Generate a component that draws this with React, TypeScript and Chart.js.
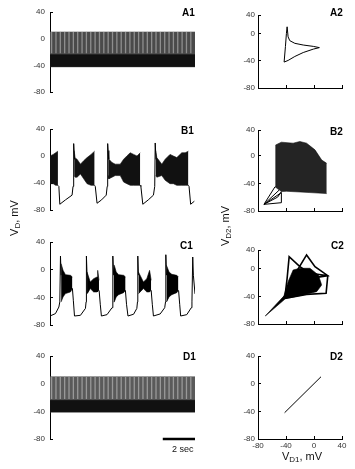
import React, { useEffect, useRef } from "react";
import { Chart, registerables } from "chart.js";

Chart.register(...registerables);

const FONT = "'Liberation Sans', Arial, Helvetica, sans-serif";

// ---------------- shared axes ----------------
const timeRange = [0, 9]; // seconds shown in left traces
const voltTicks = [-80, -40, 0, 40];
const phaseTicks = [-80, -40, 0, 40];
const scaleBarTime = [7, 9]; // 2 sec scale bar
const scaleBarV = [-80, -80];

// ---------------- A1: tonic spiking ----------------
const a1Time = [0, 9];
const a1Peak = [10, 10];
const a1Trough = [-42, -42];
const a1DenseTop = [-24, -24];
const a1SpikeTimes = [0.1, 0.37, 0.64, 0.91, 1.18, 1.45, 1.72, 1.99, 2.26, 2.53, 2.8, 3.07, 3.34, 3.61, 3.88, 4.15, 4.42, 4.69, 4.96, 5.23, 5.5, 5.77, 6.04, 6.31, 6.58, 6.85, 7.12, 7.39, 7.66, 7.93, 8.2, 8.47, 8.74];
const a1StripeRange = [10, -22];

// ---------------- A2: phase loop ----------------
const a2V1 = [-42.7, -40.8, -39.4, -38.4, -37, -34.6, -27.4, -15.4, -1, 7.7, -1, -15.4, -27.4, -37, -42.7];
const a2V2 = [-42, -19, 0, 9.7, -5, -10.6, -14.5, -17, -19, -20.8, -23, -28, -33.8, -39.6, -42];

// ---------------- B1: bursting ----------------
const b1TraceTime = [0.49, 0.55, 0.61, 0.96, 1.37, 1.43, 1.47, 1.52, 1.6, 2.77, 2.81, 2.92, 3.2, 3.49, 3.55, 3.58, 3.64, 3.7, 5.6, 5.64, 5.76, 6.1, 6.42, 6.5, 6.53, 6.58, 6.7, 8.59, 8.63, 8.73, 8.96];
const b1TraceV = [-43.5, -45, -71.5, -65, -58, -45, 18.4, -5, null, -43.5, -45, -70, -65, -58, -45, 18.4, -5, null, -43.5, -45, -71.5, -65, -58, -45, 19.3, -5, null, -43.5, -45, -71.5, -67];
const b1BurstATime = [0, 0.2, 0.35, 0.49];
const b1BurstATop = [0, 2.4, 4.8, 7.2];
const b1BurstABot = [-41, -41, -43.5, -43.5];
const b1BurstBTime = [1.5, 1.56, 1.68, 1.89, 2.09, 2.3, 2.55, 2.77];
const b1BurstBTop = [8, -3, -4.8, -12.1, -7, -2.4, 2.4, 7.2];
const b1BurstBBot = [-29, -31.4, -31.4, -26.6, -33.8, -41, -43.5, -43.5];
const b1BurstCTime = [3.61, 3.66, 3.85, 4.05, 4.36, 4.57, 4.77, 4.98, 5.19, 5.4, 5.6];
const b1BurstCTop = [8, -4.8, -9.7, -12.1, -12.1, -4.8, 0, 4.8, 2.4, 0, 4.8];
const b1BurstCBot = [-29, -33.8, -31.4, -29, -29, -38.6, -41, -43.5, -43.5, -43.5, -43.5];
const b1BurstDTime = [6.56, 6.63, 6.94, 7.15, 7.45, 7.66, 7.87, 8.18, 8.39, 8.59];
const b1BurstDTop = [8, -2.4, -12.1, -4.8, 2.4, 0, -2.4, 4.8, 4.8, 7.2];
const b1BurstDBot = [-29, -31.4, -29, -36, -41, -41, -43.5, -43.5, -43.5, -43.5];

// ---------------- B2: chaotic tangle ----------------
// dense mass outline
const b2UpperV1 = [-55.7, -54.7, -46.6, -29.8, -20.2, -10.6, 1.4, 11, 18.2];
const b2UpperV2 = [-45, 15.5, 19.4, 18, 20.4, 18, 8.3, -6.3, -11.2];
const b2LowerV1 = [-55.7, -46.6, -39.4, -5.8, 18.2];
const b2LowerV2 = [-45, -52, -51.5, -53.4, -54.9];
// strands fanning out of the lower-left corner
const b2FanV1 = [-71.5, -55.7, null, -71.5, -50, null, -71.5, -46.6, -46.6, null, -71.5, -52, -46.6, null, -71.5, -46.6];
const b2FanV2 = [-70.4, -45, null, -70.4, -50, null, -70.4, -68, -53.4, null, -70.4, -60, -52, null, -70.4, -53.4];

// ---------------- C1: bursting ----------------
const c1TraceTime = [0, 0.34, 0.55, 0.61, 0.65, 0.69, 0.75, 1.39, 1.45, 1.52, 1.89, 2.2, 2.24, 2.26, 2.3, 2.4, 3.05, 3.12, 3.19, 3.54, 3.85, 3.89, 3.91, 3.95, 4.0, 4.68, 4.75, 4.84, 5.19, 5.39, 5.43, 5.45, 5.49, 5.6, 6.28, 6.35, 6.42, 6.84, 7.12, 7.17, 7.19, 7.23, 7.3, 7.98, 8.05, 8.11, 8.49, 8.77, 8.81, 8.86, 8.9, 9.0];
const c1TraceV = [-67, -63.5, -54, -46.6, 19.7, -8, null, -27, -45, -67, -66, -56, -46.6, 19.7, -8, null, -30, -50, -67, -65, -55, -46.6, 19.7, -8, null, -30, -50, -67, -64.4, -56, -46.6, 19.7, -8, null, -30, -50, -67, -64, -55, -46.6, 21.6, -8, null, -30, -50, -67, -65, -55, -46.6, 18.3, -8, -35];
const c1Burst1Time = [0.69, 0.81, 0.96, 1.27, 1.39];
const c1Burst1Top = [8.7, -1, -7.2, -8.2, -10.6];
const c1Burst1Bot = [-46.6, -39.4, -34.6, -32.2, -27.4];
const c1Burst2Time = [2.3, 2.34, 2.5, 2.71, 2.92, 2.96, 3.04];
const c1Burst2Top = [-3.4, -3.4, -17.8, -13, -10.6, -1, -15.4];
const c1Burst2Bot = [-34.6, -34.6, -27.4, -32.2, -32.2, -32.2, -29.8];
const c1Burst3Time = [3.95, 3.99, 4.11, 4.26, 4.57, 4.69];
const c1Burst3Top = [6.3, 6.3, -3.4, -7.2, -8.2, -10.6];
const c1Burst3Bot = [-46.6, -46.6, -39.4, -36.1, -33.2, -29.8];
const c1Burst4Time = [5.49, 5.52, 5.8, 6.01, 6.18, 6.28];
const c1Burst4Top = [-3.4, -3.4, -17.8, -13, -1, -15.4];
const c1Burst4Bot = [-34.6, -34.6, -27.4, -32.2, -32.2, -29.8];
const c1Burst5Time = [7.23, 7.25, 7.39, 7.56, 7.87, 7.97];
const c1Burst5Top = [6.3, 6.3, -3.4, -6.7, -8.2, -10.6];
const c1Burst5Bot = [-46.6, -46.6, -39.4, -36.1, -33.2, -29.8];

// ---------------- C2: tangle ----------------
const c2TailUpperV1 = [-69.6, -41.8];
const c2TailUpperV2 = [-68.4, -38];
const c2TailLowerV1 = [-69.6, -41.8];
const c2TailLowerV2 = [-68.4, -44];
const c2CoreUpperV1 = [-44.2, -37, -29.8, -20.2, -5.8, 6.2, 11];
const c2CoreUpperV2 = [-43.7, -18.4, -1.5, 1, 1, -8.7, -23.3];
const c2CoreLowerV1 = [-44.2, -39.4, -20.2, 3.8, 11];
const c2CoreLowerV2 = [-43.7, -42.7, -38.8, -33, -23.3];
const c2LoopV1 = [-41.8, -38.4, -35.5, -20.2, -5.8, 19.7, 17.3, -10.6, -41.8, -25, -10.6, 1.4, 19.7, -5.8, -27.4];
const c2LoopV2 = [-42.7, -13.6, 18, 3.4, -6.3, -9.7, -35.4, -36.9, -42.7, -3.9, 20.4, 3.4, -9.7, -13.6, -3.9];

// ---------------- D1 / D2: synchronous tonic spiking ----------------
const d1Time = [0, 9];
const d1Peak = [10, 10];
const d1Trough = [-41, -41];
const d1DenseTop = [-24, -24];
const d1SpikeTimes = [0.1, 0.37, 0.64, 0.91, 1.18, 1.45, 1.72, 1.99, 2.26, 2.53, 2.8, 3.07, 3.34, 3.61, 3.88, 4.15, 4.42, 4.69, 4.96, 5.23, 5.5, 5.77, 6.04, 6.31, 6.58, 6.85, 7.12, 7.39, 7.66, 7.93, 8.2, 8.47, 8.74];
const d1StripeRange = [10, -22];
const d2V1 = [-42, 10];
const d2V2 = [-42, 10];

// ---------------- helpers ----------------
const xy = (xs: (number | null)[], ys: (number | null)[]) => xs.map((x, i) => ({ x, y: ys[i] }));

const lineDS = (xs: (number | null)[], ys: (number | null)[], width = 1, color = "#000", extra: any = {}) => ({
  data: xy(xs, ys),
  borderColor: color,
  borderWidth: width,
  pointRadius: 0,
  fill: false,
  tension: 0,
  spanGaps: false,
  ...extra,
});

// vertical strokes at each spike time, separated by gaps
const stripesDS = (times: number[], range: number[], width: number, color: string) => {
  const xs: number[] = [];
  const ys: (number | null)[] = [];
  times.forEach((t) => {
    xs.push(t, t, t);
    ys.push(range[0], range[1], null);
  });
  return lineDS(xs, ys, width, color);
};

const bandDS = (xt: number[], top: number[], xb: number[], bot: number[], color: string) => [
  { data: xy(xt, top), borderColor: color, borderWidth: 0.6, pointRadius: 0, fill: "+1", backgroundColor: color, tension: 0 },
  { data: xy(xb, bot), borderColor: color, borderWidth: 0.6, pointRadius: 0, fill: false, tension: 0 },
];

const yAxis = (min: number, max: number, ticks: number[], width: number, padding: number, topLabel?: string) => ({
  type: "linear",
  position: "left",
  min,
  max,
  afterBuildTicks: (s: any) => {
    s.ticks = ticks.map((v) => ({ value: v }));
  },
  afterFit: (s: any) => {
    s.width = width;
    s.paddingTop = 0;
    s.paddingBottom = 0;
  },
  ticks: {
    padding,
    color: "#333",
    font: { family: FONT, size: 8 },
    callback: (v: any) => (topLabel !== undefined && v === max ? topLabel : String(v)),
  },
  grid: { drawOnChartArea: false, drawTicks: true, tickLength: -3, color: "#000", lineWidth: 1 },
  border: { display: true, color: "#000", width: 1 },
});

const leftX = () => ({ type: "linear", min: timeRange[0], max: timeRange[1], display: false });

const phaseX = (height: number, labels: boolean) => ({
  type: "linear",
  position: "bottom",
  min: phaseTicks[0],
  max: phaseTicks[phaseTicks.length - 1],
  afterBuildTicks: (s: any) => {
    s.ticks = phaseTicks.map((v) => ({ value: v }));
  },
  afterFit: (s: any) => {
    s.height = height;
    s.paddingLeft = 0;
    s.paddingRight = 0;
  },
  ticks: { display: labels, padding: 5, color: "#333", font: { family: FONT, size: 8 }, maxRotation: 0, callback: (v: any) => String(v) },
  grid: { drawOnChartArea: false, drawTicks: true, tickLength: -3, color: "#000", lineWidth: 1 },
  border: { display: true, color: "#000", width: 1 },
});

const baseOptions = (scales: any, padding: any) => ({
  responsive: false,
  animation: false,
  devicePixelRatio: 1,
  events: [],
  layout: { padding },
  plugins: { legend: { display: false }, tooltip: { enabled: false }, title: { display: false } },
  scales,
});

function Panel({ left, top, width, height, make }: any) {
  const ref = useRef<HTMLCanvasElement>(null);
  useEffect(() => {
    const chart = new Chart(ref.current as HTMLCanvasElement, make());
    return () => chart.destroy();
  }, []);
  return <canvas ref={ref} width={width} height={height} style={{ position: "absolute", left, top, width, height }} />;
}

// ---------------- chart configs ----------------
// Chart.js paints the first dataset last (on top), so overlays are listed first.
const leftPad = { top: 6, bottom: 6, left: 0, right: 1 };

const makeA1 = () => ({
  type: "line",
  data: {
    datasets: [
      stripesDS(a1SpikeTimes, a1StripeRange, 1.3, "#8e8e8e"),
      ...bandDS(a1Time, a1DenseTop, a1Time, a1Trough, "#111"),
      ...bandDS(a1Time, a1Peak, a1Time, a1Trough, "#4a4a4a"),
    ],
  },
  options: baseOptions({ x: leftX(), y: yAxis(-80, 40, voltTicks, 50, 8) }, leftPad),
});

const makeB1 = () => ({
  type: "line",
  data: {
    datasets: [
      lineDS(b1TraceTime, b1TraceV, 1),
      ...bandDS(b1BurstATime, b1BurstATop, b1BurstATime, b1BurstABot, "#111"),
      ...bandDS(b1BurstBTime, b1BurstBTop, b1BurstBTime, b1BurstBBot, "#111"),
      ...bandDS(b1BurstCTime, b1BurstCTop, b1BurstCTime, b1BurstCBot, "#111"),
      ...bandDS(b1BurstDTime, b1BurstDTop, b1BurstDTime, b1BurstDBot, "#111"),
    ],
  },
  options: baseOptions({ x: leftX(), y: yAxis(-80, 40, voltTicks, 50, 8) }, leftPad),
});

const makeC1 = () => ({
  type: "line",
  data: {
    datasets: [
      lineDS(c1TraceTime, c1TraceV, 1),
      ...bandDS(c1Burst1Time, c1Burst1Top, c1Burst1Time, c1Burst1Bot, "#000"),
      ...bandDS(c1Burst2Time, c1Burst2Top, c1Burst2Time, c1Burst2Bot, "#000"),
      ...bandDS(c1Burst3Time, c1Burst3Top, c1Burst3Time, c1Burst3Bot, "#000"),
      ...bandDS(c1Burst4Time, c1Burst4Top, c1Burst4Time, c1Burst4Bot, "#000"),
      ...bandDS(c1Burst5Time, c1Burst5Top, c1Burst5Time, c1Burst5Bot, "#000"),
    ],
  },
  options: baseOptions({ x: leftX(), y: yAxis(-80, 40, voltTicks, 50, 8) }, leftPad),
});

const makeD1 = () => ({
  type: "line",
  data: {
    datasets: [
      lineDS(scaleBarTime, scaleBarV, 2.5, "#000", { clip: false }),
      stripesDS(d1SpikeTimes, d1StripeRange, 1.3, "#999"),
      ...bandDS(d1Time, d1DenseTop, d1Time, d1Trough, "#111"),
      ...bandDS(d1Time, d1Peak, d1Time, d1Trough, "#5a5a5a"),
    ],
  },
  options: baseOptions({ x: leftX(), y: yAxis(-80, 40, voltTicks, 50, 8) }, leftPad),
});

const rightPad = { top: 6, bottom: 4, left: 0, right: 8 };

const makeA2 = () => ({
  type: "line",
  data: { datasets: [lineDS(a2V1, a2V2, 1)] },
  options: baseOptions({ x: phaseX(2, false), y: yAxis(-80, 27, [-80, -40, 0, 27], 58, 6, "40") }, rightPad),
});

const makeB2 = () => ({
  type: "line",
  data: {
    datasets: [
      lineDS(b2FanV1, b2FanV2, 1),
      ...bandDS(b2UpperV1, b2UpperV2, b2LowerV1, b2LowerV2, "rgba(0,0,0,0.86)"),
    ],
  },
  options: baseOptions({ x: phaseX(2, false), y: yAxis(-80, 37, [-80, -40, 0, 37], 58, 6, "40") }, rightPad),
});

const makeC2 = () => ({
  type: "line",
  data: {
    datasets: [
      lineDS(c2LoopV1, c2LoopV2, 1.6),
      ...bandDS(c2TailUpperV1, c2TailUpperV2, c2TailLowerV1, c2TailLowerV2, "#000"),
      ...bandDS(c2CoreUpperV1, c2CoreUpperV2, c2CoreLowerV1, c2CoreLowerV2, "#000"),
    ],
  },
  options: baseOptions({ x: phaseX(2, false), y: yAxis(-80, 27.6, [-80, -40, 0, 27.6], 58, 6, "40") }, rightPad),
});

const makeD2 = () => ({
  type: "line",
  data: { datasets: [lineDS(d2V1, d2V2, 1)] },
  options: baseOptions({ x: phaseX(16, true), y: yAxis(-80, 40, phaseTicks, 58, 6) }, { top: 6, bottom: 2, left: 0, right: 8 }),
});

const labelStyle = (left: number, top: number): React.CSSProperties => ({
  position: "absolute",
  left,
  top,
  font: `bold 10px ${FONT}`,
  lineHeight: "10px",
  color: "#000",
  whiteSpace: "nowrap",
});

const subStyle: React.CSSProperties = { fontSize: 8, verticalAlign: "-2px", lineHeight: "8px" };

const titleStyle = (left: number, top: number, rotate: boolean): React.CSSProperties => ({
  position: "absolute",
  left,
  top,
  transform: rotate ? "translate(-50%,-50%) rotate(-90deg)" : "translate(-50%,-50%)",
  font: `11px ${FONT}`,
  lineHeight: "11px",
  color: "#111",
  whiteSpace: "nowrap",
});

export default function App() {
  return (
    <div style={{ position: "absolute", left: 0, top: 0, width: 355, height: 469, background: "#fff", overflow: "hidden" }}>
      <Panel left={0} top={6} width={196} height={92} make={makeA1} />
      <Panel left={0} top={123} width={196} height={93} make={makeB1} />
      <Panel left={0} top={236} width={196} height={95} make={makeC1} />
      <Panel left={0} top={350} width={196} height={95} make={makeD1} />
      <Panel left={200} top={9} width={150} height={85} make={makeA2} />
      <Panel left={200} top={124} width={150} height={93} make={makeB2} />
      <Panel left={200} top={244} width={150} height={86} make={makeC2} />
      <Panel left={200} top={350} width={150} height={107} make={makeD2} />

      <div style={labelStyle(182, 8)}>A1</div>
      <div style={labelStyle(330, 8)}>A2</div>
      <div style={labelStyle(181, 125.5)}>B1</div>
      <div style={labelStyle(330, 126.5)}>B2</div>
      <div style={labelStyle(180, 240.5)}>C1</div>
      <div style={labelStyle(331, 241)}>C2</div>
      <div style={labelStyle(183, 352)}>D1</div>
      <div style={labelStyle(330, 352)}>D2</div>

      <div style={{ position: "absolute", left: 172, top: 445, font: `9px ${FONT}`, lineHeight: "9px", color: "#111", whiteSpace: "nowrap" }}>2 sec</div>

      <div style={titleStyle(14.5, 218, true)}>
        V<sub style={subStyle}>D</sub>, mV
      </div>
      <div style={titleStyle(226, 226, true)}>
        V<sub style={subStyle}>D2</sub>, mV
      </div>
      <div style={titleStyle(302, 457, false)}>
        V<sub style={subStyle}>D1</sub>, mV
      </div>
    </div>
  );
}
